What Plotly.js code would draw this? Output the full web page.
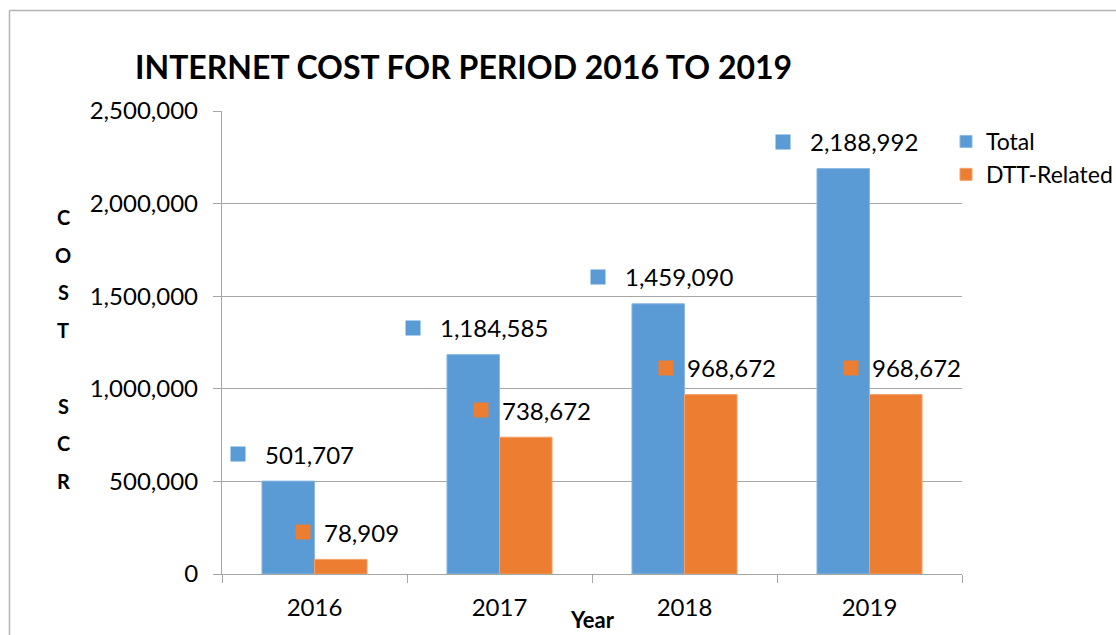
<!DOCTYPE html>
<html>
<head>
<meta charset="utf-8">
<script src="https://cdn.plot.ly/plotly-3.0.1.min.js"></script>
<style>
  html, body { margin: 0; padding: 0; background: #ffffff; }
  #chart { width: 1116px; height: 635px; }
</style>
</head>
<body>
<div id="chart"></div>
<script>
// ---- data ----
const years = ['2016', '2017', '2018', '2019'];
const totalValues = [501707, 1184585, 1459090, 2188992];
const dttValues = [78909, 738672, 968672, 968672];
const seriesNames = ['Total', 'DTT-Related'];
const yTickValues = [0, 500000, 1000000, 1500000, 2000000, 2500000];
const yTickLabels = ['0', '500,000', '1,000,000', '1,500,000', '2,000,000', '2,500,000'];
const yTitleLetters = ['C', 'O', 'S', 'T', '', 'S', 'C', 'R'];
const chartTitle = 'INTERNET COST FOR PERIOD 2016 TO 2019';
const xTitle = 'Year';

// ---- style ----
const BLUE = '#5B9BD5';
const ORANGE = '#ED7D31';
const GRID = '#a6a6a6';
const FONT = 'Lato, "Open Sans", sans-serif';
const W = 1116, H = 635;
const M = { l: 222, r: 154, t: 111, b: 61 };
const plotW = W - M.l - M.r, plotH = H - M.t - M.b;
const catW = plotW / years.length;
const BARGAP = 0.432;
const barW = catW * (1 - BARGAP) / 2;
const LABEL_SIZE = 24;

function fmt(v) { return v.toLocaleString('en-US'); }
function textWidth(s) {
  let w = 0;
  for (const ch of s) w += (ch === ',') ? 0.24 * LABEL_SIZE : 0.58 * LABEL_SIZE;
  return w;
}

const traces = [
  { type: 'bar', name: seriesNames[0], x: years, y: totalValues,
    marker: { color: BLUE, line: { color: '#8db8e2', width: 1 } }, legendgroup: 'a', hoverinfo: 'x+y' },
  { type: 'bar', name: seriesNames[1], x: years, y: dttValues,
    marker: { color: ORANGE, line: { color: '#f3a26c', width: 1 } }, legendgroup: 'b', hoverinfo: 'x+y' }
];

const annotations = [];
const series = [
  { vals: totalValues, color: BLUE, off: -barW / 2, gap: 20 },
  { vals: dttValues, color: ORANGE, off: barW / 2, gap: 14 }
];
series.forEach(s => {
  s.vals.forEach((v, i) => {
    const txt = fmt(v);
    const tw = textWidth(txt);
    const cx = s.off + 21;
    annotations.push({
      x: i, y: v, xref: 'x', yref: 'y', text: txt, showarrow: false,
      xanchor: 'center', yanchor: 'middle', xshift: cx, yshift: 27,
      font: { family: FONT, size: LABEL_SIZE, color: '#000000' }
    });
    annotations.push({
      x: i, y: v, xref: 'x', yref: 'y', text: ' ', showarrow: false,
      width: 14, height: 14, borderpad: 0, bgcolor: s.color,
      xanchor: 'center', yanchor: 'middle', xshift: cx - tw / 2 - s.gap - 7, yshift: 27,
      font: { family: FONT, size: 10 }
    });
  });
});

// vertical stacked y title
yTitleLetters.forEach((ch, i) => {
  if (!ch) return;
  annotations.push({
    xref: 'paper', yref: 'paper', x: (63 - M.l) / plotW, y: (M.t + plotH - (217 + i * 37.7)) / plotH,
    text: ch, showarrow: false, xanchor: 'center', yanchor: 'middle',
    font: { family: FONT, size: 20, color: '#000000', weight: 700 }
  });
});

annotations.push({
  xref: 'paper', yref: 'paper', x: 0.5, y: (M.t + plotH - 619) / plotH,
  text: xTitle, showarrow: false, xanchor: 'center', yanchor: 'middle',
  font: { family: FONT, size: 22, color: '#000000', weight: 700 }
});

const fx = px => (px - M.l) / plotW;
const fy = py => (M.t + plotH - py) / plotH;
const shapes = [
  { type: 'line', xref: 'paper', yref: 'paper', x0: fx(9.5), x1: fx(9.5), y0: fy(645), y1: fy(10.5),
    line: { color: '#b4b4b4', width: 1.5 } },
  { type: 'line', xref: 'paper', yref: 'paper', x0: fx(9.5), x1: fx(1125), y0: fy(10.5), y1: fy(10.5),
    line: { color: '#b4b4b4', width: 1.5 } }
];

const layout = {
  width: W, height: H,
  margin: { l: M.l, r: M.r, t: M.t, b: M.b, autoexpand: false },
  paper_bgcolor: '#ffffff', plot_bgcolor: '#ffffff',
  font: { family: FONT, size: 23, color: '#000000' },
  title: {
    text: chartTitle, xref: 'container', yref: 'container',
    x: 135 / W, xanchor: 'left', y: 1 - 67.5 / H, yanchor: 'middle',
    font: { family: FONT, size: 32, color: '#000000', weight: 700 }
  },
  barmode: 'group', bargap: BARGAP, bargroupgap: 0,
  xaxis: {
    type: 'category', range: [-0.5, years.length - 0.5], autorange: false,
    showgrid: false, showline: true, linecolor: GRID, linewidth: 1.3,
    ticks: 'outside', tickson: 'boundaries', ticklen: 8, tickcolor: GRID, tickwidth: 1.3,
    ticklabelstandoff: 12, tickangle: 0,
    tickfont: { family: FONT, size: 24, color: '#000000' }, fixedrange: true
  },
  yaxis: {
    range: [0, 2500000], autorange: false, tickvals: yTickValues, ticktext: yTickLabels,
    showgrid: true, gridcolor: GRID, gridwidth: 1.3, zeroline: false,
    showline: true, linecolor: GRID, linewidth: 1.3,
    ticks: 'outside', ticklen: 8, tickcolor: GRID, tickwidth: 1.3, ticklabelstandoff: 10,
    tickfont: { family: FONT, size: 24, color: '#000000' }, fixedrange: true
  },
  showlegend: true,
  legend: {
    x: fx(946), xanchor: 'left', y: fy(120), yanchor: 'top',
    font: { family: FONT, size: 23, color: '#000000' },
    bgcolor: 'rgba(0,0,0,0)', tracegroupgap: 9, traceorder: 'normal'
  },
  annotations: annotations,
  shapes: shapes
};

Plotly.newPlot('chart', traces, layout, { displayModeBar: false, responsive: false });
</script>
</body>
</html>
